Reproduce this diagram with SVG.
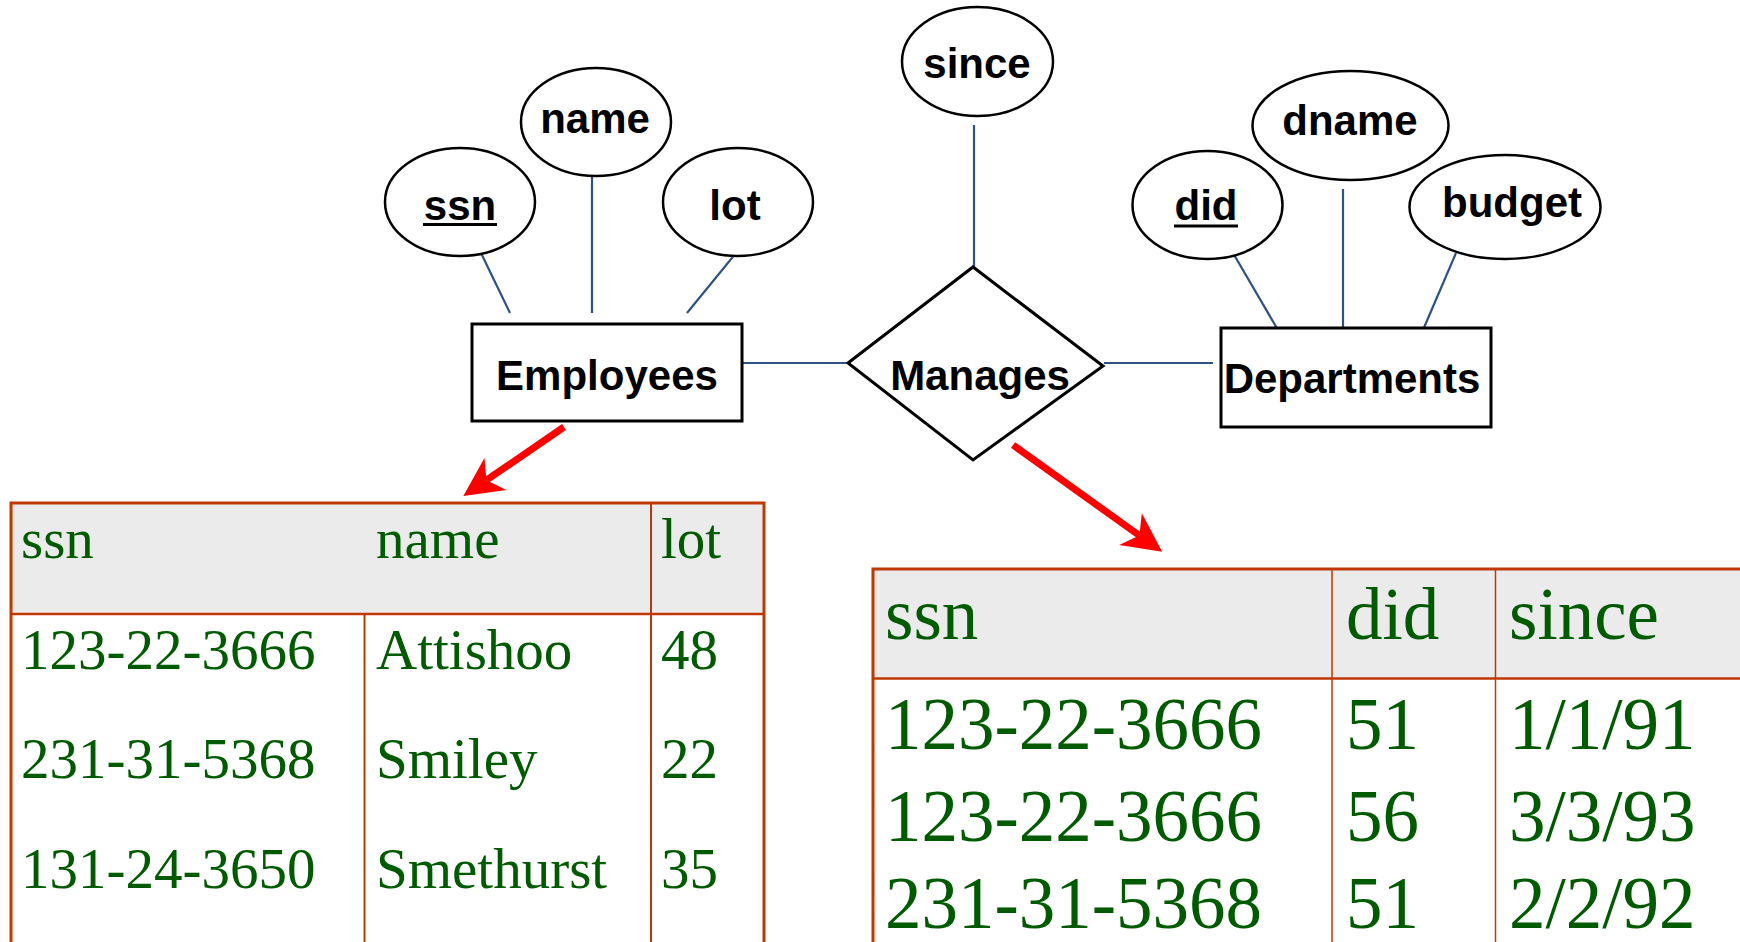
<svg xmlns="http://www.w3.org/2000/svg" width="1740" height="942" viewBox="0 0 1740 942">
<style>
.attr{fill:#fff;stroke:#000;stroke-width:2.5}
.ent{fill:#fff;stroke:#000;stroke-width:3}
.lbl{font-family:"Liberation Sans",Arial,sans-serif;font-weight:bold;font-size:42px;fill:#000;text-anchor:middle}
.conn{stroke:#2E5283;stroke-width:2.2;fill:none}
.red{stroke:#FF0000;stroke-width:7;fill:none;marker-end:url(#ah)}
.tb{stroke:#C03800;fill:none}
.t1{font-family:"Liberation Serif","Times New Roman",serif;font-size:57px;fill:#005A00}
.t2{font-family:"Liberation Serif","Times New Roman",serif;font-size:73px;fill:#005A00}
</style>
<defs>
<marker id="ah" markerUnits="userSpaceOnUse" viewBox="-12 -21 42 42" refX="0" refY="0" markerWidth="42" markerHeight="42" orient="auto">
<path d="M28,0 L-11,-19.5 L0,0 L-11,19.5 Z" fill="#FF0000"/>
</marker>
</defs>
<rect width="1740" height="942" fill="#fff"/>

<g id="connectors">
<line class="conn" x1="481" y1="253" x2="510" y2="313"/>
<line class="conn" x1="592" y1="173" x2="592" y2="313"/>
<line class="conn" x1="736" y1="253" x2="687" y2="313"/>
<line class="conn" x1="734" y1="363" x2="848" y2="363"/>
<line class="conn" x1="974" y1="125" x2="974" y2="267"/>
<line class="conn" x1="1104" y1="363" x2="1213" y2="363"/>
<line class="conn" x1="1233" y1="253" x2="1278" y2="330"/>
<line class="conn" x1="1343" y1="189" x2="1343" y2="330"/>
<line class="conn" x1="1456" y1="253" x2="1423" y2="330"/>
<line class="red" x1="564" y1="427" x2="486.4" y2="480.2"/>
<line class="red" x1="1013" y1="445" x2="1139.4" y2="535.5"/>
</g>

<g id="attr-ssn">
<ellipse class="attr" cx="460" cy="202" rx="75" ry="54"/>
<text class="lbl" x="460" y="220">ssn</text>
<line x1="423" y1="224.5" x2="497" y2="224.5" stroke="#000" stroke-width="3"/>
</g>
<g id="attr-name">
<ellipse class="attr" cx="596" cy="122" rx="75" ry="54"/>
<text class="lbl" x="595" y="133">name</text>
</g>
<g id="attr-lot">
<ellipse class="attr" cx="738" cy="202" rx="75" ry="54"/>
<text class="lbl" x="735" y="220">lot</text>
</g>
<g id="attr-since">
<ellipse class="attr" cx="977.5" cy="61.5" rx="75.5" ry="54.5"/>
<text class="lbl" x="977" y="78">since</text>
</g>
<g id="attr-did">
<ellipse class="attr" cx="1207.5" cy="205" rx="75" ry="54"/>
<text class="lbl" x="1206" y="220">did</text>
<line x1="1174" y1="226" x2="1238" y2="226" stroke="#000" stroke-width="3"/>
</g>
<g id="attr-dname">
<ellipse class="attr" cx="1350.5" cy="125.5" rx="98" ry="54.5"/>
<text class="lbl" x="1350" y="135">dname</text>
</g>
<g id="attr-budget">
<ellipse class="attr" cx="1505" cy="207" rx="95.5" ry="52"/>
<text class="lbl" x="1512" y="217">budget</text>
</g>

<g id="ent-employees">
<rect class="ent" x="472" y="324" width="270" height="97"/>
<text class="lbl" x="607" y="390">Employees</text>
</g>
<g id="rel-manages">
<polygon class="ent" stroke-width="2.5" points="848,363 973,267 1103,366 973,460"/>
<text class="lbl" x="980" y="390">Manages</text>
</g>
<g id="ent-departments">
<rect class="ent" x="1221" y="328" width="270" height="99"/>
<text class="lbl" x="1352" y="393">Departments</text>
</g>

<g id="table-employees">
<rect x="11" y="503" width="753" height="111" fill="#EBEBEB"/>
<path class="tb" stroke-width="3" d="M11,960 V503 H764 V960"/>
<line class="tb" stroke-width="2.5" x1="11" y1="614" x2="764" y2="614"/>
<line class="tb" stroke-width="2" x1="651" y1="503" x2="651" y2="960"/>
<line class="tb" stroke-width="2" x1="364.5" y1="614" x2="364.5" y2="960"/>
<text class="t1" x="21" y="558">ssn</text>
<text class="t1" x="376" y="558">name</text>
<text class="t1" x="661" y="558">lot</text>
<text class="t1" x="21" y="669">123-22-3666</text>
<text class="t1" x="376" y="669">Attishoo</text>
<text class="t1" x="661" y="669">48</text>
<text class="t1" x="21" y="778">231-31-5368</text>
<text class="t1" x="376" y="778">Smiley</text>
<text class="t1" x="661" y="778">22</text>
<text class="t1" x="21" y="888">131-24-3650</text>
<text class="t1" x="376" y="888">Smethurst</text>
<text class="t1" x="661" y="888">35</text>
</g>

<g id="table-manages">
<rect x="873" y="569" width="880" height="110" fill="#EBEBEB"/>
<path class="tb" stroke-width="3" d="M873,960 V569 H1760"/>
<line class="tb" stroke-width="2.5" x1="873" y1="678.5" x2="1760" y2="678.5"/>
<line class="tb" stroke-width="1.5" x1="1332" y1="569" x2="1332" y2="960"/>
<line class="tb" stroke-width="1.5" x1="1495.5" y1="569" x2="1495.5" y2="960"/>
<text class="t2" x="885" y="639">ssn</text>
<text class="t2" x="1346" y="639">did</text>
<text class="t2" x="1509" y="639">since</text>
<text class="t2" x="885" y="749">123-22-3666</text>
<text class="t2" x="1346" y="749">51</text>
<text class="t2" x="1509" y="749">1/1/91</text>
<text class="t2" x="885" y="841">123-22-3666</text>
<text class="t2" x="1346" y="841">56</text>
<text class="t2" x="1509" y="841">3/3/93</text>
<text class="t2" x="885" y="928">231-31-5368</text>
<text class="t2" x="1346" y="928">51</text>
<text class="t2" x="1509" y="928">2/2/92</text>
</g>
</svg>
